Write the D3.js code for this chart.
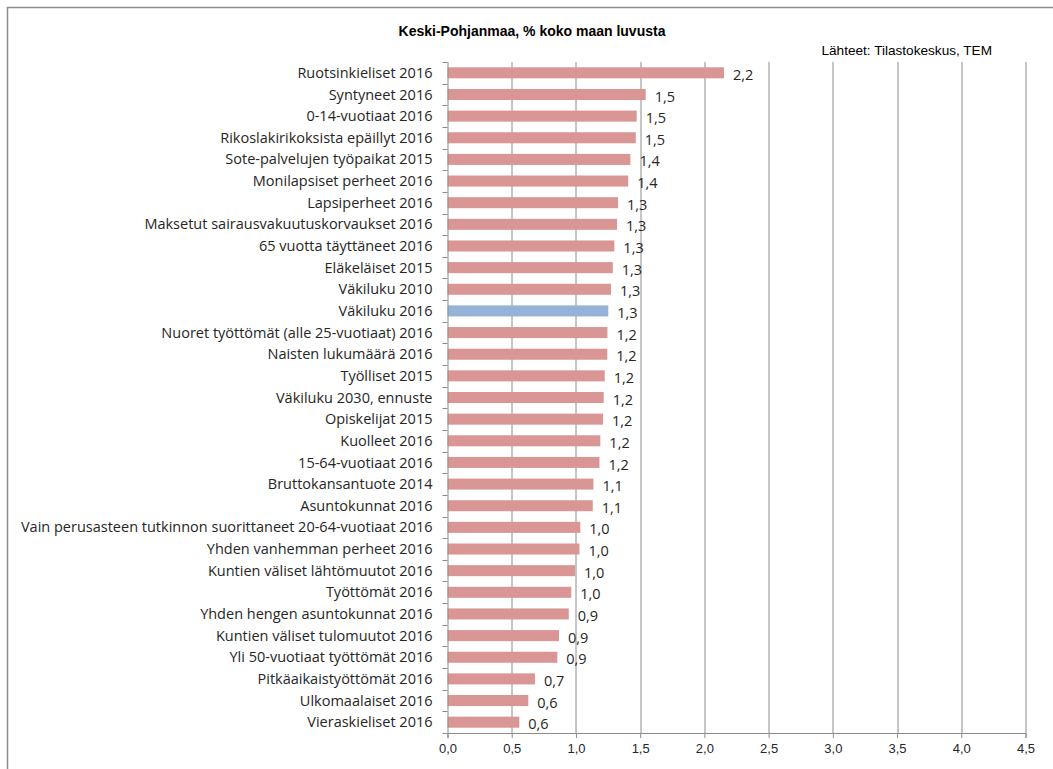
<!DOCTYPE html>
<html>
<head>
<meta charset="utf-8">
<script src="https://cdn.jsdelivr.net/npm/d3@7"></script>
<style>
  html, body { margin: 0; padding: 0; background: #fff; }
  svg { display: block; }
  text { font-family: "Liberation Sans", Arial, sans-serif; fill: #262626; }
  .cat, .val { font-family: "Open Sans", "Liberation Sans", sans-serif; }
</style>
</head>
<body>
<svg id="chart" width="1053" height="769"></svg>
<script>
// Keski-Pohjanmaa, share of the whole country (%)
const categories = [
  "Ruotsinkieliset 2016",
  "Syntyneet 2016",
  "0-14-vuotiaat 2016",
  "Rikoslakirikoksista epäillyt 2016",
  "Sote-palvelujen työpaikat 2015",
  "Monilapsiset perheet 2016",
  "Lapsiperheet 2016",
  "Maksetut sairausvakuutuskorvaukset 2016",
  "65 vuotta täyttäneet 2016",
  "Eläkeläiset 2015",
  "Väkiluku 2010",
  "Väkiluku 2016",
  "Nuoret työttömät (alle 25-vuotiaat) 2016",
  "Naisten lukumäärä 2016",
  "Työlliset 2015",
  "Väkiluku 2030, ennuste",
  "Opiskelijat 2015",
  "Kuolleet 2016",
  "15-64-vuotiaat 2016",
  "Bruttokansantuote 2014",
  "Asuntokunnat 2016",
  "Vain perusasteen tutkinnon suorittaneet 20-64-vuotiaat 2016",
  "Yhden vanhemman perheet 2016",
  "Kuntien väliset lähtömuutot 2016",
  "Työttömät 2016",
  "Yhden hengen asuntokunnat 2016",
  "Kuntien väliset tulomuutot 2016",
  "Yli 50-vuotiaat työttömät 2016",
  "Pitkäaikaistyöttömät 2016",
  "Ulkomaalaiset 2016",
  "Vieraskieliset 2016"
];
const shares = [
  2.153, 1.543, 1.473, 1.466, 1.424, 1.407, 1.328, 1.320, 1.299, 1.287,
  1.273, 1.252, 1.245, 1.244, 1.224, 1.216, 1.211, 1.190, 1.183, 1.136,
  1.131, 1.034, 1.027, 0.993, 0.964, 0.944, 0.868, 0.855, 0.681, 0.629,
  0.559
];
const highlighted = ["Väkiluku 2016"];
const xTicks = [0, 0.5, 1, 1.5, 2, 2.5, 3, 3.5, 4, 4.5];
const titleText = "Keski-Pohjanmaa, % koko maan luvusta";
const sourceText = "Lähteet: Tilastokeskus, TEM";

const rows = categories.map((c, i) => ({ name: c, value: shares[i] }));

const svg = d3.select("#chart");
const margin = { top: 62, left: 447.5, right: 27.5, bottom: 36 };
const W = 1053, H = 769;
const plotW = W - margin.left - margin.right;
const plotH = 733 - margin.top;

const fmt = v => d3.format(".1f")(v).replace(".", ",");

// outer chart frame
svg.append("path")
  .attr("d", `M7.5,${H} V7.5 H${W}`)
  .attr("fill", "none").attr("stroke", "#8c8c8c").attr("stroke-width", 1.5);

svg.append("text")
  .attr("x", 532).attr("y", 36)
  .attr("text-anchor", "middle")
  .style("font-size", "14px").style("font-weight", "bold")
  .style("fill", "#000")
  .text(titleText);

svg.append("text")
  .attr("x", 992).attr("y", 55)
  .attr("text-anchor", "end")
  .style("font-size", "13.6px")
  .style("fill", "#000")
  .text(sourceText);

const g = svg.append("g").attr("transform", `translate(${margin.left},${margin.top})`);

const x = d3.scaleLinear().domain([0, 4.5]).range([0, plotW]);
const y = d3.scaleBand().domain(categories).range([0, plotH]).paddingInner(0.49).paddingOuter(0.245);

// vertical gridlines
g.append("g").selectAll("line").data(xTicks.slice(1)).join("line")
  .attr("x1", d => Math.round(x(d)) + 0.5).attr("x2", d => Math.round(x(d)) + 0.5)
  .attr("y1", 0).attr("y2", plotH)
  .attr("stroke", "#8c8c8c").attr("stroke-width", 1);

// bars
g.append("g").selectAll("rect").data(rows).join("rect")
  .attr("x", x(0))
  .attr("y", d => y(d.name))
  .attr("width", d => x(d.value) - x(0))
  .attr("height", y.bandwidth())
  .attr("fill", d => highlighted.includes(d.name) ? "#95b3d7" : "#d99694");

// value labels
g.append("g").selectAll("text").data(rows).join("text")
  .attr("class", "val")
  .attr("x", d => x(d.value) + 9)
  .attr("y", d => y(d.name) + y.bandwidth() / 2 + 2)
  .attr("dy", "0.35em")
  .style("font-size", "14.5px")
  .text(d => fmt(d.value));

// x axis
const xAxis = g.append("g")
  .attr("transform", `translate(0,${plotH})`)
  .call(d3.axisBottom(x).tickValues(xTicks).tickSize(5).tickPadding(6).tickFormat(fmt));
xAxis.select(".domain").attr("stroke", "#8c8c8c");
xAxis.selectAll(".tick line").attr("stroke", "#8c8c8c");
xAxis.selectAll("text").style("font-size", "13px").style("font-family", "Liberation Sans, Arial, sans-serif").attr("fill", "#262626");

// y axis: category labels with tick marks at band boundaries
const yAxis = g.append("g");
yAxis.append("line")
  .attr("x1", 0.5).attr("x2", 0.5).attr("y1", 0).attr("y2", plotH)
  .attr("stroke", "#8c8c8c");
yAxis.selectAll("line.tk").data(d3.range(categories.length + 1)).join("line")
  .attr("class", "tk")
  .attr("x1", -5).attr("x2", 0)
  .attr("y1", i => Math.round(i * plotH / categories.length) + 0.5)
  .attr("y2", i => Math.round(i * plotH / categories.length) + 0.5)
  .attr("stroke", "#8c8c8c");
yAxis.selectAll("text").data(categories).join("text")
  .attr("class", "cat")
  .attr("x", -15)
  .attr("y", d => y(d) + y.bandwidth() / 2)
  .attr("dy", "0.35em")
  .attr("text-anchor", "end")
  .style("font-size", "14.5px")
  .text(d => d);
</script>
</body>
</html>
